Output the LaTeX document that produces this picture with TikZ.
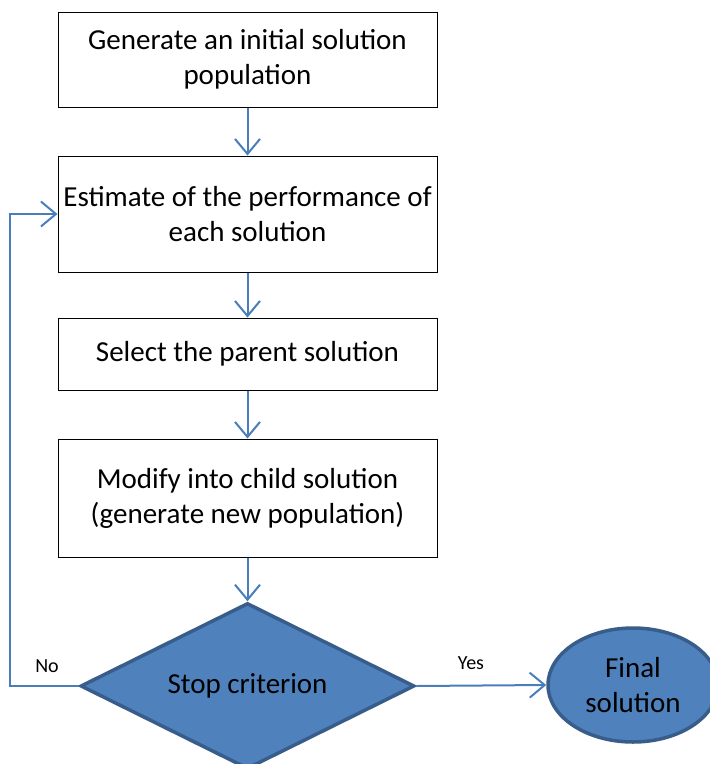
\documentclass[tikz,border=0pt]{standalone}
\usepackage{fontspec}
\setmainfont{Carlito}
\usetikzlibrary{arrows.meta,shapes.geometric}
\definecolor{flowfill}{HTML}{4F81BD}
\definecolor{flowedge}{HTML}{385D8A}
\definecolor{flowline}{HTML}{4A7EBB}
\tikzset{
  procbox/.style={draw=black, line width=1pt, fill=white, minimum width=379pt,
    inner sep=0pt, align=center, font=\fontsize{29}{35}\selectfont},
  decision/.style={shape=diamond, aspect=2, draw=flowedge, line width=3.5pt, fill=flowfill,
    minimum width=334pt, minimum height=166pt, inner sep=0pt, align=center,
    font=\fontsize{29}{35}\selectfont},
  terminal/.style={shape=ellipse, draw=flowedge, line width=3.5pt, fill=flowfill,
    minimum width=170pt, minimum height=114pt, inner sep=0pt, align=center,
    font=\fontsize{29}{35}\selectfont},
  flow/.style={draw=flowline, line width=2pt,
    -{Straight Barb[length=15pt, width=25pt, line width=2pt]}},
  edgetext/.style={font=\fontsize{20}{24}\selectfont, inner sep=0pt}
}
\begin{document}
\begin{tikzpicture}[x=1pt, y=-1pt]
  \clip (0,0) rectangle (710,764);

  % process steps
  \node[procbox, minimum height=95pt]  (init)   at (247.5,59.5) {Generate an initial solution\\population};
  \node[procbox, minimum height=116pt] (eval)   at (247.5,214)  {Estimate of the performance of\\each solution};
  \node[procbox, minimum height=72pt]  (select) at (247.5,354)  {Select the parent solution};
  \node[procbox, minimum height=118pt] (modify) at (247.5,498)  {Modify into child solution\\(generate new population)};

  % decision and end
  \node[decision] (stop)  at (247.5,686) {Stop criterion};
  \node[terminal] (final) at (633,685)   {Final\\solution};

  % connectors
  \draw[flow] (init)   -- (eval);
  \draw[flow] (eval)   -- (select);
  \draw[flow] (select) -- (modify);
  \draw[flow] (modify) -- (stop);
  \coordinate (loopbottom) at (10,686);
  \draw[flow] (stop.west) -- (loopbottom) |- (eval.west);
  \draw[flow] (stop.east) -- (final.west);

  % branch labels
  \node[edgetext] (nolabel)  at (47,666)  {No};
  \node[edgetext] (yeslabel) at (471,663) {Yes};
\end{tikzpicture}
\end{document}
